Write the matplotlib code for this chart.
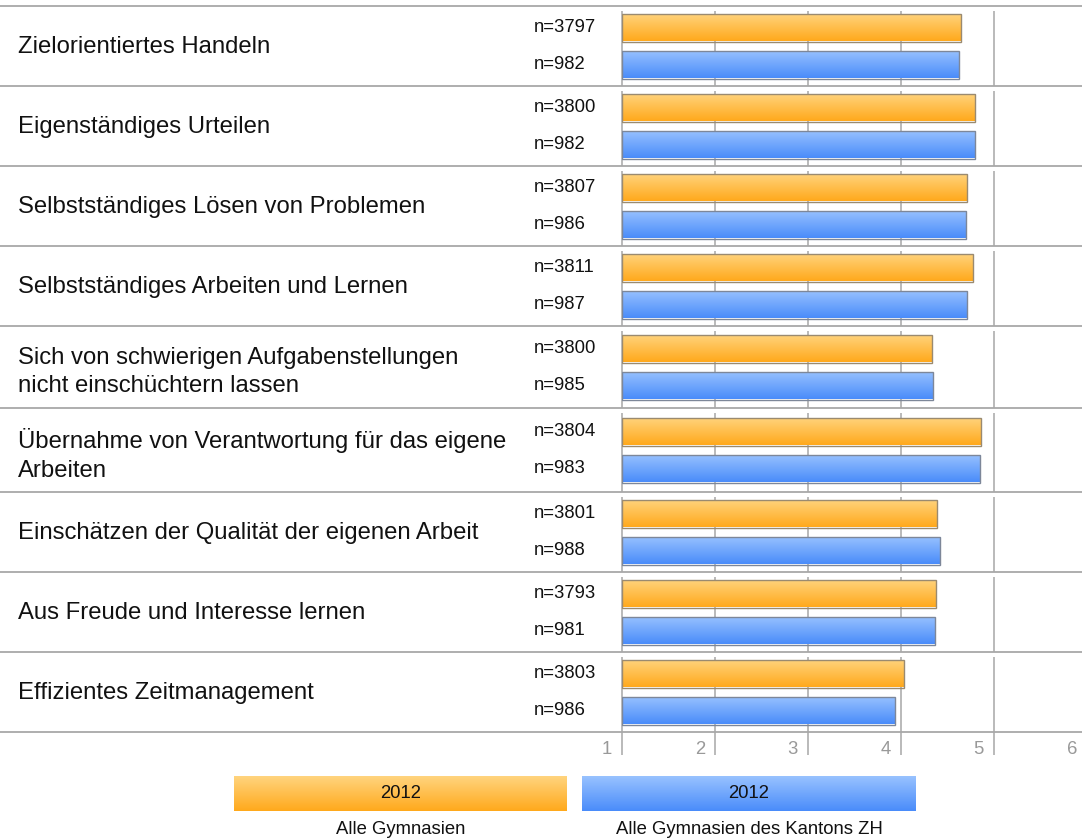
import matplotlib.pyplot as plt
import numpy as np
from matplotlib.colors import to_rgb
from matplotlib.patches import Rectangle
from matplotlib.transforms import blended_transform_factory, offset_copy

plt.rcParams['font.family'] = ['Liberation Sans', 'DejaVu Sans']

# ---- data ----
categories = [
    "Zielorientiertes Handeln",
    "Eigenständiges Urteilen",
    "Selbstständiges Lösen von Problemen",
    "Selbstständiges Arbeiten und Lernen",
    "Sich von schwierigen Aufgabenstellungen\nnicht einschüchtern lassen",
    "Übernahme von Verantwortung für das eigene\nArbeiten",
    "Einschätzen der Qualität der eigenen Arbeit",
    "Aus Freude und Interesse lernen",
    "Effizientes Zeitmanagement",
]
alle_gym = [4.64, 4.80, 4.71, 4.77, 4.33, 4.86, 4.39, 4.38, 4.03]
alle_gym_zh = [4.62, 4.80, 4.70, 4.71, 4.34, 4.85, 4.42, 4.37, 3.94]
n_alle = [3797, 3800, 3807, 3811, 3800, 3804, 3801, 3793, 3803]
n_zh = [982, 982, 986, 987, 985, 983, 988, 981, 986]
series_names = ["Alle Gymnasien", "Alle Gymnasien des Kantons ZH"]
series_years = ["2012", "2012"]
x_ticks = [1, 2, 3, 4, 5, 6]

# gradient colours (top, bottom)
orange = ("#FFD47E", "#FFA91C")
blue = ("#98C2FF", "#4A8CFA")

W, H = 1082, 840
fig = plt.figure(figsize=(W / 100, H / 100), dpi=100)

# row layout in pixels (two-line rows are a bit taller)
row_h = np.array([80, 80, 80, 80, 82, 84, 80, 80, 80])
top_px = 6
edges = top_px + np.concatenate([[0], np.cumsum(row_h)])
bottom_px = edges[-1]
centers = (edges[:-1] + edges[1:]) / 2
bar_h = 28
bar_off = 18.5

# value axis: 1 at x=622px, 93px per unit
x1_px, unit_px = 622, 93
ax = fig.add_axes([x1_px / W, 1 - bottom_px / H,
                   5 * unit_px / W, (bottom_px - top_px) / H])
ax.set_xlim(1, 6)
ax.set_ylim(bottom_px, top_px)
ax.axis('off')


def gradient(c_top, c_bot, n=64):
    t = np.linspace(0, 1, n)[:, None, None]
    a = np.array(to_rgb(c_top))[None, None, :]
    b = np.array(to_rgb(c_bot))[None, None, :]
    return a * (1 - t) + b * t


def grad_bar(axis, x0, x1, yc, h, cols, edge):
    yt, yb = yc - h / 2, yc + h / 2
    img = axis.imshow(gradient(*cols), extent=(x0, x1, yb, yt), origin='upper',
                      aspect='auto', interpolation='bilinear', zorder=3)
    rect = Rectangle((x0, yt), x1 - x0, h, facecolor='none',
                     edgecolor=edge, lw=1.0, zorder=4)
    axis.add_patch(rect)
    img.set_clip_path(rect)


# vertical gridlines, drawn per row with a small gap below each separator
for i in range(len(categories)):
    ax.vlines(x_ticks, edges[i] + 5, edges[i + 1], color='#B4B4B4', lw=1.3,
              zorder=1, clip_on=False)
ax.vlines(x_ticks, bottom_px, bottom_px + 23, color='#B4B4B4', lw=1.3,
          zorder=1, clip_on=False)

# horizontal row separators across the whole width
sep_tr = blended_transform_factory(fig.transFigure, ax.transData)
for y in edges:
    ax.plot([0, 1], [y, y], transform=sep_tr, color='#A8A8A8', lw=1.3,
            clip_on=False, zorder=2)

# bars
for i in range(len(categories)):
    grad_bar(ax, 1, alle_gym[i], centers[i] - bar_off, bar_h, orange, '#9A8A70')
    grad_bar(ax, 1, alle_gym_zh[i], centers[i] + bar_off, bar_h, blue, '#7D8799')

# labels on the left and sample sizes
for i, cat in enumerate(categories):
    dy = 5 if '\n' in cat else 1
    ax.text(18 / W, centers[i] + dy, cat, transform=sep_tr, ha='left',
            va='center', fontsize=17.2, color='#111111', linespacing=1.36)
    ax.text(534 / W, centers[i] - bar_off, f"n={n_alle[i]}", transform=sep_tr,
            ha='left', va='center', fontsize=13.3, color='#111111')
    ax.text(534 / W, centers[i] + bar_off, f"n={n_zh[i]}", transform=sep_tr,
            ha='left', va='center', fontsize=13.3, color='#111111')

# tick labels sit left of their gridline
tick_tr = offset_copy(ax.transData, fig=fig, x=-10, y=0, units='dots')
for t in x_ticks:
    ax.text(t, bottom_px + 17, str(t), transform=tick_tr, ha='right',
            va='center', fontsize=13.3, color='#999999', clip_on=False)

# legend boxes
lax = fig.add_axes([0, 0, 1, 1], zorder=-1)
lax.set_xlim(0, W)
lax.set_ylim(H, 0)
lax.axis('off')
legend_boxes = [(234, 567), (582, 916)]
for (lx0, lx1), cols, year, name in zip(legend_boxes, [orange, blue],
                                        series_years, series_names):
    lax.imshow(gradient(*cols), extent=(lx0, lx1, 811, 776), origin='upper',
               aspect='auto', interpolation='bilinear')
    lax.text((lx0 + lx1) / 2, 794, year, ha='center', va='center',
             fontsize=13.3, color='#111111')
    lax.text((lx0 + lx1) / 2, 829, name, ha='center', va='center',
             fontsize=13.3, color='#111111')
lax.set_xlim(0, W)
lax.set_ylim(H, 0)

fig.savefig('out.png', dpi=100)
